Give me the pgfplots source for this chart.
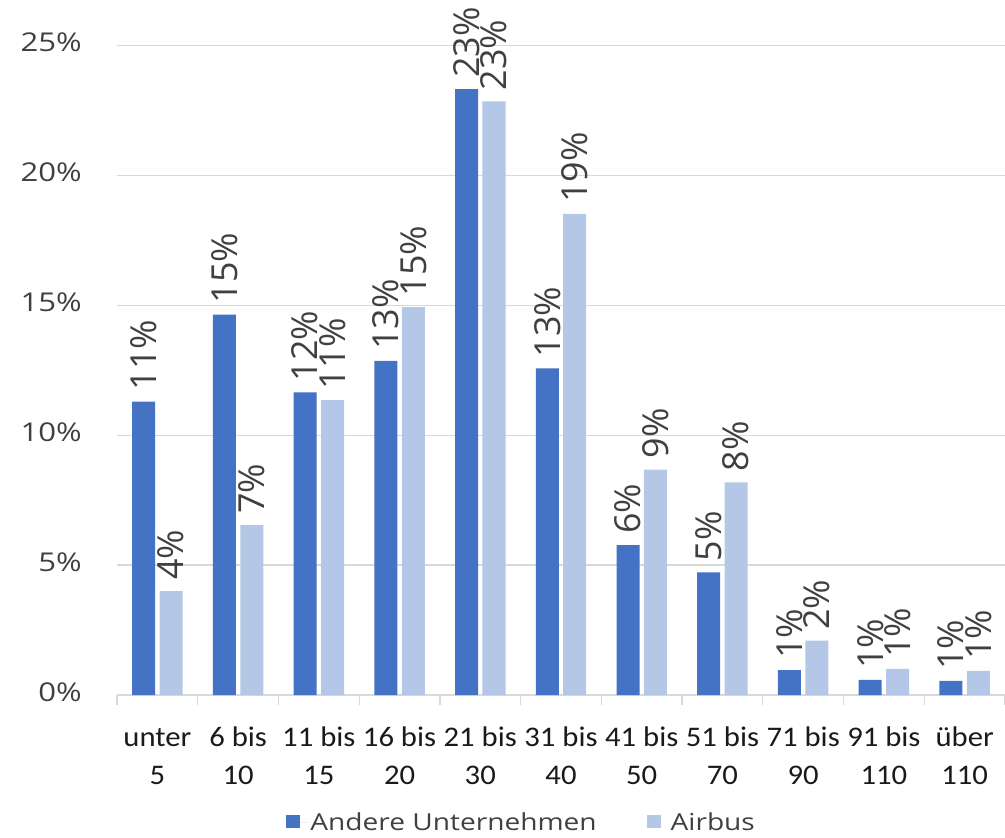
\documentclass[border=0pt]{standalone}
\usepackage{fontspec}
\usepackage{pgfplots}
\pgfplotsset{compat=1.18}
\setmainfont{Open Sans}
\newfontfamily\tickfont[FakeStretch=1.2]{Open Sans}
\newfontfamily\xfont[FakeStretch=1.08]{Carlito}
\definecolor{dark}{HTML}{4472C4}
\definecolor{light}{HTML}{B4C7E7}
\definecolor{gridc}{HTML}{D9D9D9}
\definecolor{txt}{HTML}{404040}
\definecolor{xtxt}{HTML}{1A1A1A}

\pgfplotstableread{
x xa xb andere airbus
0 -0.17 0.17 11.30 4.00
1 0.83 1.17 14.65 6.54
2 1.83 2.17 11.65 11.35
3 2.83 3.17 12.86 14.93
4 3.83 4.17 23.33 22.86
5 4.83 5.17 12.58 18.52
6 5.83 6.17 5.77 8.68
7 6.83 7.17 4.72 8.19
8 7.83 8.17 0.96 2.09
9 8.83 9.17 0.58 1.01
10 9.83 10.17 0.54 0.93
}\datatable

\begin{document}
\begin{tikzpicture}
\begin{axis}[
  scale only axis, width=888bp, height=649.3bp,
  xmin=-0.5, xmax=10.5, ymin=0, ymax=25,
  clip=false,
  axis x line*=bottom, axis y line*=left,
  x axis line style={draw=gridc, line width=1.3bp},
  y axis line style={draw=none},
  xtick={0,...,10},
  xticklabels={{\strut unter\\5},{\strut 6 bis\\10},{\strut 11 bis\\15},{\strut 16 bis\\20},{\strut 21 bis\\30},{\strut 31 bis\\40},{\strut 41 bis\\50},{\strut 51 bis\\70},{\strut 71 bis\\90},{\strut 91 bis\\110},{\strut über\\110}},
  xticklabel style={align=center, anchor=north, inner sep=0pt, yshift=-25bp, font=\xfont\fontsize{28.5}{38}\selectfont, text=xtxt},
  major x tick style={draw=none},
  minor xtick={-0.5,0.5,...,10.5},
  minor x tick style={draw=gridc, line width=1.3bp},
  minor tick length=10bp,
  major tick length=0pt,
  tick align=outside,
  ytick={0,5,10,15,20,25},
  yticklabels={0\%,5\%,10\%,15\%,20\%,25\%},
  yticklabel style={anchor=east, inner sep=0pt, xshift=-35bp, yshift=3bp, font=\tickfont\fontsize{26}{30}\selectfont, text=txt},
  y tick style={draw=none},
  ymajorgrids, grid style={draw=gridc, line width=1.3bp},
  /pgf/number format/assume math mode=true,
  legend style={at={(0.4557,-0.1956)}, anchor=center, legend columns=2, draw=none, fill=none,
    font=\tickfont\fontsize{23.5}{28}\selectfont, text=txt,
    /tikz/every even column/.append style={column sep=48bp}},
  legend image code/.code={\fill[#1] (0bp,-6bp) rectangle (14bp,7bp); \path (0bp,0bp) -- (22bp,0bp);},
]
\addplot[ybar, bar width=0.285, bar shift=-0.17, fill=dark, draw=none] table[x=x, y=andere] {\datatable};
\addlegendentry{Andere Unternehmen}
\addplot[ybar, bar width=0.285, bar shift=0.17, fill=light, draw=none] table[x=x, y=airbus] {\datatable};
\addlegendentry{Airbus}
\addplot[draw=none, mark=none, forget plot,
  nodes near coords={\pgfmathprintnumber[fixed,precision=0]{\pgfplotspointmeta}\%},
  every node near coord/.append style={rotate=90, anchor=west, inner xsep=11bp, inner ysep=0pt, font=\fontsize{36}{40}\selectfont, text=txt}]
  table[x=xa, y=andere] {\datatable};
\addplot[draw=none, mark=none, forget plot,
  nodes near coords={\pgfmathprintnumber[fixed,precision=0]{\pgfplotspointmeta}\%},
  every node near coord/.append style={rotate=90, anchor=west, inner xsep=11bp, inner ysep=0pt, font=\fontsize{36}{40}\selectfont, text=txt}]
  table[x=xb, y=airbus] {\datatable};
\end{axis}
\pgfresetboundingbox
\path ([xshift=-117bp,yshift=-143bp]current axis.south west) rectangle ([yshift=45.7bp]current axis.north east);
\end{tikzpicture}
\end{document}
